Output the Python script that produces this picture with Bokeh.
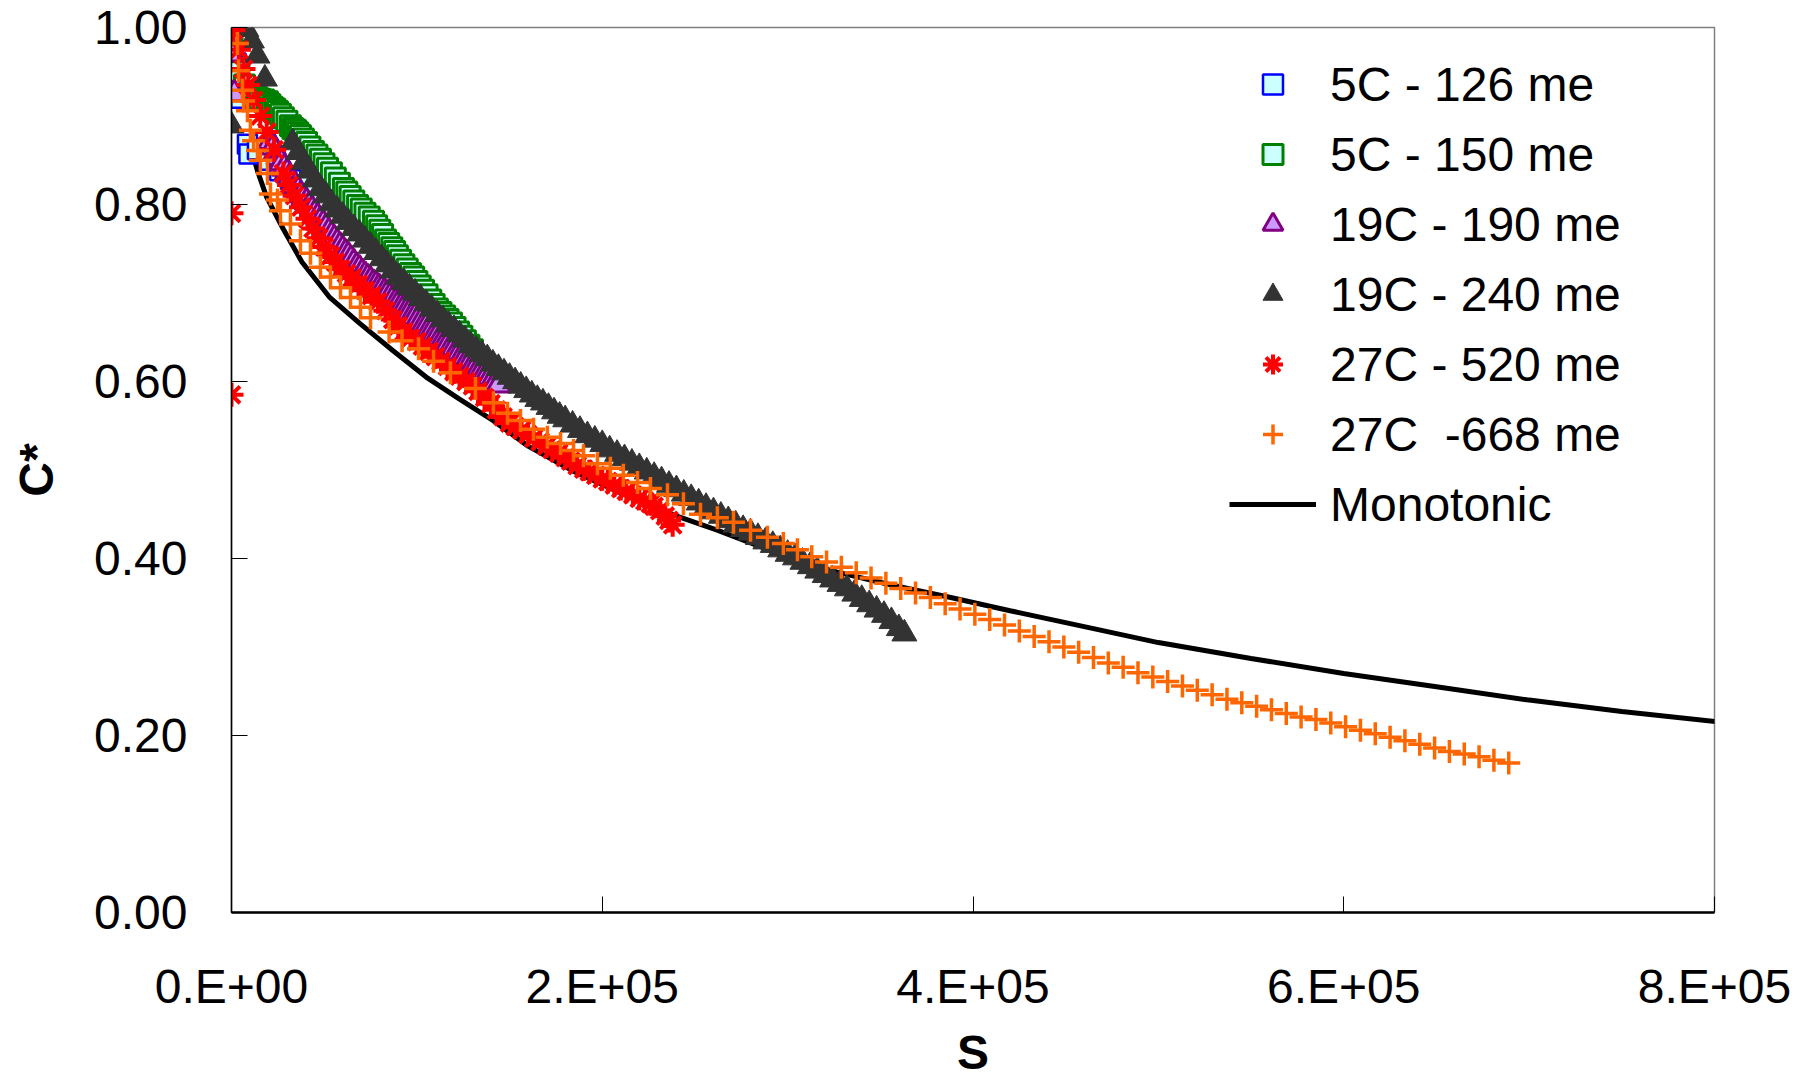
from bokeh.plotting import figure
from bokeh.models import Range1d, FixedTicker, Legend, LegendItem, NumeralTickFormatter
from bokeh.embed import file_html
from bokeh.resources import INLINE

# ---------------- data ----------------
mono_s = [9000, 14000, 19000, 28000, 38000, 53000, 69000, 87000, 105000, 123000,
          141000, 160000, 185000, 210000, 236000, 262000, 292000, 324000, 356000, 388000,
          420000, 460000, 500000, 550000, 600000, 650000, 700000, 750000, 808000]
mono_c = [0.875, 0.838, 0.808, 0.772, 0.735, 0.695, 0.666, 0.635, 0.605, 0.580,
          0.556, 0.527, 0.498, 0.474, 0.451, 0.432, 0.408, 0.386, 0.370, 0.356,
          0.341, 0.323, 0.305, 0.287, 0.270, 0.255, 0.240, 0.227, 0.214]

blue_s = [2500, 5000, 8600, 9400, 14000, 20000, 26000, 32000, 38000, 42000]
blue_c = [0.960, 0.920, 0.868, 0.857, 0.862, 0.850, 0.838, 0.828, 0.822, 0.812]

green_s = [0, 300, 600, 900, 1200, 1500, 4000, 7000, 10000, 11900,
           13700, 15500, 17400, 19400, 20700, 22000, 23400, 24800, 26400, 28000,
           29900, 31800, 33100, 34500, 35800, 37200, 38800, 40500, 42300, 44200,
           46100, 48000, 49900, 51800, 53900, 56000, 58200, 60400, 62200, 64000,
           66000, 68000, 70000, 72000, 74300, 76600, 78300, 80000, 81500, 83100,
           84800, 86500, 88000, 89500, 91200, 93000, 94800, 96600, 98300, 100000,
           101800, 103600, 105500, 107500, 109300, 111100, 113000, 115000, 116800, 118700,
           120600, 122500, 124300, 126200, 128100, 130000]
green_c = [0.998, 0.985, 0.972, 0.958, 0.945, 0.932, 0.950, 0.935, 0.928, 0.923,
           0.921, 0.919, 0.918, 0.916, 0.913, 0.910, 0.908, 0.905, 0.902, 0.898,
           0.894, 0.889, 0.886, 0.884, 0.881, 0.878, 0.874, 0.870, 0.865, 0.860,
           0.856, 0.851, 0.846, 0.841, 0.836, 0.830, 0.824, 0.818, 0.814, 0.809,
           0.804, 0.799, 0.795, 0.790, 0.786, 0.781, 0.776, 0.771, 0.766, 0.760,
           0.756, 0.751, 0.747, 0.742, 0.737, 0.732, 0.727, 0.722, 0.718, 0.713,
           0.708, 0.703, 0.698, 0.692, 0.687, 0.682, 0.678, 0.674, 0.670, 0.666,
           0.661, 0.656, 0.651, 0.646, 0.641, 0.636]

purple_s = [0, 1500,
            21000, 22500, 24000, 25500, 27000, 28500, 30000, 31500, 33000, 34500,
            36000, 37500, 39000, 40500, 42000, 43500, 45000, 46500, 48000, 49500,
            51000, 52500, 54000, 55500, 57000, 58500, 60000, 61500, 63000, 64500,
            66000, 67500, 69000, 70500, 72000, 73500, 75000, 76500, 78000, 79500,
            81000, 82500, 84000, 85500, 87000, 88500, 90000, 91500, 93000, 94500,
            96000, 97500, 99000, 100500, 102000, 103500, 105000, 106500, 108000, 109500,
            111000, 112500, 114000, 115500, 117000, 118500, 120000, 121500, 123000, 124500,
            126000, 127500, 129000, 130500, 132000, 133500, 135000, 136500, 138000, 139500,
            141000, 142500, 144000]
purple_c = [0.970, 0.925,
            0.871, 0.865, 0.859, 0.853, 0.847, 0.841, 0.836, 0.831, 0.826, 0.821,
            0.816, 0.811, 0.807, 0.803, 0.799, 0.794, 0.790, 0.786, 0.782, 0.778,
            0.774, 0.769, 0.765, 0.761, 0.757, 0.753, 0.749, 0.745, 0.742, 0.738,
            0.734, 0.730, 0.727, 0.723, 0.720, 0.717, 0.714, 0.711, 0.709, 0.706,
            0.704, 0.701, 0.699, 0.696, 0.693, 0.690, 0.688, 0.685, 0.683, 0.680,
            0.678, 0.675, 0.673, 0.670, 0.667, 0.664, 0.662, 0.659, 0.657, 0.654,
            0.652, 0.649, 0.647, 0.645, 0.643, 0.640, 0.638, 0.635, 0.633, 0.630,
            0.628, 0.625, 0.623, 0.620, 0.618, 0.615, 0.613, 0.610, 0.608, 0.605,
            0.602, 0.599, 0.596]

gray_s = [0, 8000, 11000, 14000, 18000,
          33000, 36000, 39000, 42000, 45000, 48000, 51000, 54000, 57000, 60000,
          63000, 66000, 69000, 72000, 75000, 78000, 81000, 84000, 87000, 90000,
          93000, 96000, 99000, 102000, 105000, 108000, 111000, 114000, 117000, 120000,
          123000, 126000, 129000, 132000, 135000, 138000, 141000, 144000, 147000, 150000,
          153000, 156000, 159000, 162000, 165000, 168000, 171000, 174000, 177000, 180000,
          184000, 188000, 192000, 196000, 200000, 204000, 208000, 212000, 216000, 220000,
          224000, 228000, 232000, 236000, 240000, 244000, 248000, 252000, 256000, 260000,
          264000, 268000, 272000, 276000, 280000, 284000, 288000, 292000, 296000, 300000,
          304000, 308000, 312000, 316000, 320000, 324000, 328000, 332000, 336000, 340000,
          344000, 348000, 352000, 356000, 360000, 363000]
gray_c = [0.889, 0.998, 0.985, 0.968, 0.942,
          0.870, 0.859, 0.848, 0.838, 0.828, 0.818, 0.810, 0.801, 0.794, 0.787,
          0.780, 0.773, 0.767, 0.760, 0.753, 0.746, 0.739, 0.732, 0.725, 0.718,
          0.712, 0.706, 0.700, 0.694, 0.688, 0.682, 0.676, 0.670, 0.664, 0.659,
          0.653, 0.647, 0.641, 0.636, 0.631, 0.626, 0.620, 0.615, 0.610, 0.605,
          0.600, 0.595, 0.590, 0.585, 0.580, 0.576, 0.571, 0.566, 0.561, 0.557,
          0.551, 0.545, 0.539, 0.534, 0.529, 0.523, 0.518, 0.513, 0.508, 0.503,
          0.498, 0.493, 0.488, 0.483, 0.478, 0.473, 0.468, 0.463, 0.458, 0.453,
          0.448, 0.443, 0.438, 0.433, 0.429, 0.424, 0.419, 0.415, 0.410, 0.405,
          0.401, 0.396, 0.391, 0.386, 0.381, 0.376, 0.371, 0.366, 0.360, 0.354,
          0.348, 0.342, 0.336, 0.329, 0.321, 0.315]

red_s = [0, 0, 1100, 4000, 6500, 9000, 12000, 15500, 19000, 23000,
         28000, 31000, 34000, 37500, 41000, 44000, 47000, 50000, 53400, 56000,
         59000, 62000, 65000, 68500, 72000, 75500, 79000, 83000, 87000, 90000,
         93000, 96500, 100000, 103000, 106500, 110000, 113000, 116500, 120000, 123000,
         126500, 130000, 133000, 136500, 140000, 143000, 146500, 150000, 153000, 156500,
         160000, 163000, 166500, 170000, 173000, 176500, 180000, 183000, 186500, 190000,
         193000, 196500, 200000, 203000, 206500, 210000, 213000, 216500, 220000, 223000,
         226000, 228000, 231000, 234000, 236000, 238000]
red_c = [0.790, 0.585, 0.997, 0.975, 0.953, 0.935, 0.918, 0.900, 0.882, 0.862,
         0.835, 0.822, 0.810, 0.797, 0.784, 0.773, 0.762, 0.752, 0.742, 0.735,
         0.727, 0.722, 0.717, 0.710, 0.703, 0.697, 0.690, 0.680, 0.670, 0.663,
         0.656, 0.649, 0.645, 0.640, 0.634, 0.628, 0.623, 0.617, 0.611, 0.606,
         0.600, 0.595, 0.589, 0.582, 0.575, 0.568, 0.560, 0.553, 0.549, 0.545,
         0.540, 0.536, 0.532, 0.527, 0.523, 0.519, 0.514, 0.510, 0.505, 0.501,
         0.498, 0.494, 0.490, 0.487, 0.483, 0.479, 0.476, 0.472, 0.468, 0.465,
         0.462, 0.459, 0.454, 0.448, 0.443, 0.438]

orange_s = [3200, 3800, 5900, 6500, 8600, 10200, 11900, 14000, 15600, 19400,
            21000, 24800, 26400, 31800, 37200, 42600, 48000, 53400, 58800, 64200,
            69600, 75000, 85000, 92000, 100900, 109000, 118100, 131600, 141300, 148900,
            155900, 162900, 170400, 177500, 184500, 189900, 197400, 204400, 211400, 219000,
            226000, 235200, 243800, 253000, 262100, 270800, 280000, 289100, 297700, 305300,
            313000, 321000, 329000, 337000, 345000, 353000, 361000, 369000, 377000, 385000,
            393000, 401000, 409000, 417000, 425000, 433000, 441000, 449000, 457000, 465000,
            473000, 481000, 489000, 497000, 505000, 513000, 521000, 529000, 537000, 545000,
            553000, 561000, 569000, 577000, 585000, 593000, 601000, 609000, 617000, 625000,
            633000, 641000, 649000, 657000, 665000, 673000, 681000, 689000]
orange_c = [0.982, 0.951, 0.929, 0.917, 0.906, 0.884, 0.872, 0.861, 0.850, 0.835,
            0.812, 0.805, 0.793, 0.778, 0.759, 0.745, 0.729, 0.718, 0.706, 0.695,
            0.684, 0.672, 0.656, 0.646, 0.637, 0.623, 0.610, 0.592, 0.576, 0.564,
            0.556, 0.546, 0.537, 0.530, 0.522, 0.516, 0.507, 0.502, 0.494, 0.486,
            0.479, 0.472, 0.462, 0.450, 0.446, 0.441, 0.432, 0.424, 0.417, 0.410,
            0.402, 0.396, 0.390, 0.384, 0.378, 0.372, 0.366, 0.361, 0.356, 0.349,
            0.343, 0.337, 0.331, 0.325, 0.318, 0.312, 0.306, 0.300, 0.294, 0.288,
            0.282, 0.277, 0.271, 0.266, 0.261, 0.256, 0.251, 0.246, 0.241, 0.237,
            0.233, 0.229, 0.225, 0.221, 0.218, 0.214, 0.210, 0.206, 0.202, 0.198,
            0.194, 0.190, 0.186, 0.182, 0.179, 0.176, 0.172, 0.169]

labels = ["5C - 126 me", "5C - 150 me", "19C - 190 me", "19C - 240 me",
          "27C - 520 me", "27C  -668 me", "Monotonic"]
x_ticks = [0, 200000, 400000, 600000, 800000]
x_tick_labels = ["0.E+00", "2.E+05", "4.E+05", "6.E+05", "8.E+05"]
y_ticks = [0.0, 0.2, 0.4, 0.6, 0.8, 1.0]

# ---------------- figure ----------------
FONT = "Liberation Sans"
p = figure(width=1813, height=1083, output_backend="svg", toolbar_location=None,
           x_range=Range1d(0, 800000), y_range=Range1d(0, 1),
           min_border_left=231, min_border_right=99, min_border_top=27, min_border_bottom=171,
           x_axis_label="S", y_axis_label="C*")
p.grid.visible = False
p.outline_line_color = "#808080"
p.outline_line_width = 1.5
p.background_fill_color = "white"
p.border_fill_color = "white"

p.xaxis.ticker = FixedTicker(ticks=x_ticks)
p.xaxis.major_label_overrides = {t: l for t, l in zip(x_ticks, x_tick_labels)}
p.yaxis.ticker = FixedTicker(ticks=y_ticks)
p.yaxis.formatter = NumeralTickFormatter(format="0.00")

for ax in p.axis:
    ax.major_tick_in = 16
    ax.major_tick_out = 0
    ax.minor_tick_in = 0
    ax.minor_tick_out = 0
    ax.major_tick_line_color = "black"
    ax.axis_line_color = "black"
    ax.major_label_text_font = FONT
    ax.major_label_text_font_size = "48px"
    ax.major_label_text_color = "black"
    ax.axis_label_text_font = FONT
    ax.axis_label_text_font_size = "48px"
    ax.axis_label_text_font_style = "bold"
    ax.axis_label_text_color = "black"
p.xaxis.axis_line_width = 2.5
p.yaxis.axis_line_width = 1.5
p.xaxis.major_label_standoff = 47
p.xaxis.axis_label_standoff = 10
p.yaxis.major_label_standoff = 44
p.yaxis.axis_label_standoff = 28

# ---------------- glyphs ----------------
r_mono = p.line(mono_s, mono_c, line_color="black", line_width=5)
r_blue = p.scatter(blue_s, blue_c, marker="square", size=19, fill_color="#CCFFFF",
                   line_color="#0000FF", line_width=2.5)
r_green = p.scatter(green_s, green_c, marker="square", size=20, fill_color="#CCFFFF",
                    line_color="#008000", line_width=3)
r_purple = p.scatter(purple_s, purple_c, marker="triangle", size=24, fill_color="#CC99FF",
                     line_color="#800080", line_width=3)
r_gray = p.scatter(gray_s, gray_c, marker="triangle", size=25, fill_color="#333333",
                   line_color="#333333", line_width=1)
r_red = p.scatter(red_s, red_c, marker="asterisk", size=24, line_color="#FF0000",
                  line_width=4)
r_orange = p.scatter(orange_s, orange_c, marker="cross", size=23, line_color="#FF6600",
                     line_width=3.5)

items = [LegendItem(label=l, renderers=[r]) for l, r in
         zip(labels, [r_blue, r_green, r_purple, r_gray, r_red, r_orange, r_mono])]
legend = Legend(items=items, location=(998, 373), label_text_font=FONT,
                label_text_font_size="48px", label_text_color="black",
                glyph_width=87, glyph_height=50, label_height=70, label_standoff=14,
                spacing=0, padding=0, margin=0, border_line_color=None,
                background_fill_alpha=0)
p.add_layout(legend)

open("out.html", "w").write(file_html(p, INLINE))
